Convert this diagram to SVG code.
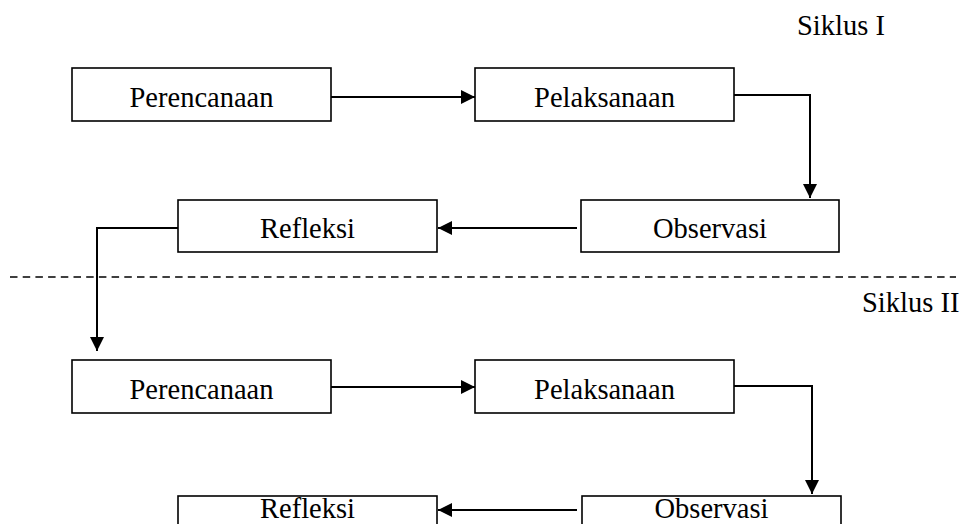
<svg xmlns="http://www.w3.org/2000/svg" width="965" height="524" viewBox="0 0 965 524">
<style>
.box{fill:#fff;stroke:#000;stroke-width:1.6}
.lbl{font-family:"Liberation Serif","Times New Roman",serif;font-size:28.5px;fill:#000;text-anchor:middle}
.cap{font-family:"Liberation Serif","Times New Roman",serif;font-size:28.5px;fill:#000}
.con{fill:none;stroke:#000;stroke-width:2}
</style>
<defs>
<marker id="ah" markerWidth="14" markerHeight="14" refX="14" refY="7" orient="auto" markerUnits="userSpaceOnUse">
<path d="M0,0 L14,7 L0,14 Z" fill="#000"/>
</marker>
</defs>
<rect width="965" height="524" fill="#fff"/>
<text class="cap" x="797" y="35">Siklus I</text>
<text class="cap" x="862" y="312">Siklus II</text>
<line x1="10" y1="277" x2="956" y2="277" stroke="#000" stroke-width="1.3" stroke-dasharray="7.5 5.2"/>
<g id="connectors">
<line class="con" x1="331" y1="97" x2="475" y2="97" marker-end="url(#ah)"/>
<polyline class="con" points="734,95 810,95 810,198" marker-end="url(#ah)"/>
<line class="con" x1="577" y1="228" x2="438" y2="228" marker-end="url(#ah)"/>
<polyline class="con" points="178,228 97,228 97,351" marker-end="url(#ah)"/>
<line class="con" x1="331" y1="387" x2="475" y2="387" marker-end="url(#ah)"/>
<polyline class="con" points="734,386 812,386 812,494" marker-end="url(#ah)"/>
<line class="con" x1="577" y1="510" x2="438" y2="510" marker-end="url(#ah)"/>
</g>
<g id="perencanaan1"><rect class="box" x="72" y="68" width="259" height="53"/><text class="lbl" x="201.5" y="107">Perencanaan</text></g>
<g id="pelaksanaan1"><rect class="box" x="475" y="68" width="259" height="53"/><text class="lbl" x="604.5" y="107">Pelaksanaan</text></g>
<g id="observasi1"><rect class="box" x="581" y="200" width="258" height="52"/><text class="lbl" x="710" y="238">Observasi</text></g>
<g id="refleksi1"><rect class="box" x="178" y="200" width="259" height="52"/><text class="lbl" x="307.5" y="238">Refleksi</text></g>
<g id="perencanaan2"><rect class="box" x="72" y="360" width="259" height="53"/><text class="lbl" x="201.5" y="399">Perencanaan</text></g>
<g id="pelaksanaan2"><rect class="box" x="475" y="360" width="259" height="53"/><text class="lbl" x="604.5" y="399">Pelaksanaan</text></g>
<g id="observasi2"><rect class="box" x="582" y="496" width="259" height="53"/><text class="lbl" x="711.5" y="518">Observasi</text></g>
<g id="refleksi2"><rect class="box" x="178" y="496" width="259" height="53"/><text class="lbl" x="307.5" y="518">Refleksi</text></g>
</svg>
